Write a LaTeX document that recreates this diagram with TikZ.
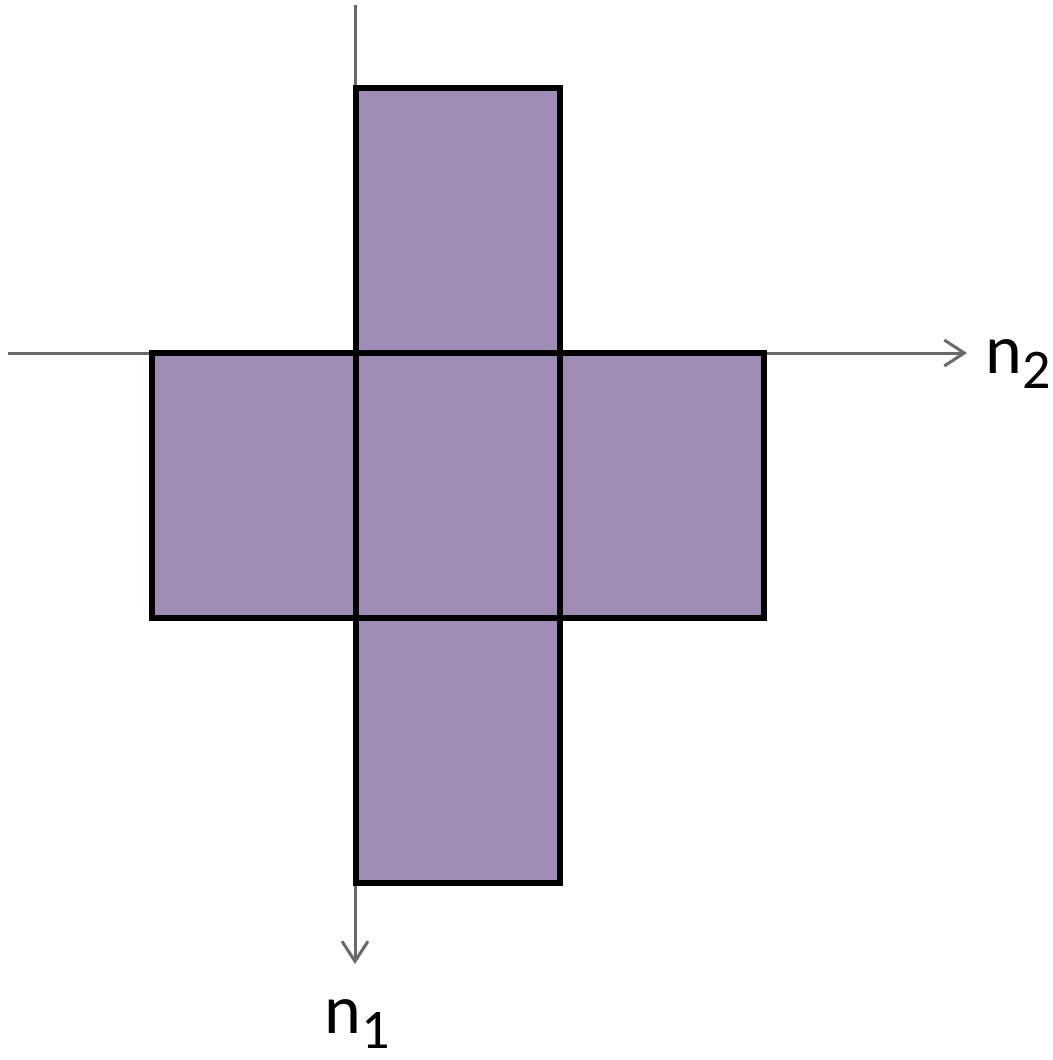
\documentclass[tikz,border=0pt]{standalone}
\usepackage{fontspec}
\setmainfont{Carlito}
\usetikzlibrary{arrows.meta}
\definecolor{cellfill}{RGB}{158,139,182}
\definecolor{axisgray}{RGB}{105,105,105}
\newcommand{\axislabel}[1]{n\raisebox{-0.45ex}{\scalebox{0.8}{#1}}}

\begin{document}
\begin{tikzpicture}[x=0.5pt,y=-0.5pt,>={Straight Barb[length=10pt,width=13pt]},
  cell/.style={draw,line width=3pt,fill=cellfill,inner sep=0pt,outer sep=0pt,
    minimum width=102pt,minimum height=132.5pt},
  axis/.style={draw=axisgray,line width=1.5pt,->},
  lbl/.style={font=\fontsize{35}{42}\selectfont,inner sep=0pt}]
\useasboundingbox (0,0) rectangle (1053,1060);

\coordinate (vtop) at (355,5);
\coordinate (vend) at (355,964);
\coordinate (hleft) at (8,353);
\coordinate (hend) at (967,353);
\draw[axis] (vtop) -- (vend);
\draw[axis] (hleft) -- (hend);

\node[cell] (top) at (457.5,220) {};
\node[cell] (left) at (253.5,485.5) {};
\node[cell] (mid) at (457.5,485.5) {};
\node[cell] (right) at (661.5,485.5) {};
\node[cell] (bottom) at (457.5,750.5) {};

\node[lbl] (n2) at (1018,364) {\axislabel{2}};
\node[lbl] (n1) at (357,1024) {\axislabel{1}};
\end{tikzpicture}
\end{document}
